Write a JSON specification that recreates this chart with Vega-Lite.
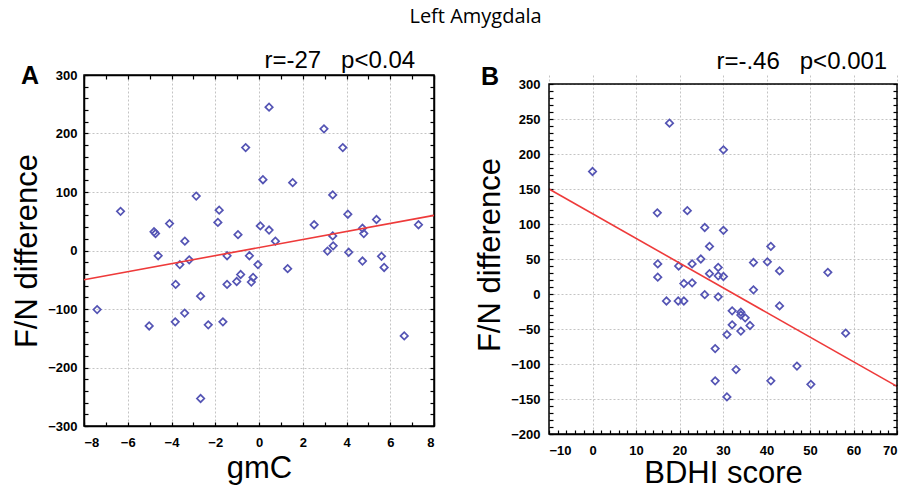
{
  "$schema": "https://vega.github.io/schema/vega-lite/v6.json",
  "padding": {"left": 10, "top": 7, "right": 2, "bottom": 0},
  "title": {"text": "Left Amygdala", "font": "Open Sans", "fontSize": 20, "fontWeight": "normal", "color": "black", "anchor": "middle", "dx": 20, "offset": 21},
  "spacing": 36,
  "config": {
    "view": {"stroke": "black", "strokeWidth": 1.5},
    "axis": {
      "labelFont": "Liberation Sans", "labelFontWeight": "bold", "labelFontSize": 13, "labelColor": "black",
      "titleFont": "Liberation Sans", "titleFontWeight": "normal", "titleFontSize": 31, "titleColor": "black",
      "domainColor": "black", "domainWidth": 1.5, "tickColor": "black", "tickWidth": 1.2, "tickSize": -4,
      "gridColor": "#c4c4c4", "gridDash": [2, 2], "gridWidth": 1, "labelOverlap": false
    }
  },
  "datasets": {
    "A": [
      {"x": -6.33, "y": 67}, {"x": -4.8, "y": 32}, {"x": -4.73, "y": 29}, {"x": -4.09, "y": 46}, {"x": -3.39, "y": 16},
      {"x": -2.87, "y": 93}, {"x": -1.88, "y": 48}, {"x": -1.82, "y": 69}, {"x": -0.96, "y": 27}, {"x": -0.61, "y": 176},
      {"x": 0.06, "y": 42}, {"x": 0.18, "y": 121}, {"x": 0.46, "y": 245}, {"x": 0.46, "y": 35}, {"x": 0.75, "y": 16},
      {"x": 1.54, "y": 116}, {"x": 2.52, "y": 44}, {"x": 2.97, "y": 208}, {"x": 3.37, "y": 95}, {"x": 3.37, "y": 25},
      {"x": 3.83, "y": 176}, {"x": 4.06, "y": 62}, {"x": 4.73, "y": 38}, {"x": 4.79, "y": 29}, {"x": 5.37, "y": 53},
      {"x": 7.29, "y": 44}, {"x": -4.61, "y": -9}, {"x": -3.62, "y": -24}, {"x": -3.19, "y": -16}, {"x": -3.81, "y": -58},
      {"x": -2.67, "y": -78}, {"x": -7.4, "y": -101}, {"x": -5.02, "y": -129}, {"x": -3.83, "y": -122}, {"x": -3.4, "y": -107},
      {"x": -2.32, "y": -127}, {"x": -1.65, "y": -122}, {"x": -2.67, "y": -253}, {"x": -1.46, "y": -9}, {"x": -1.46, "y": -58},
      {"x": -1.02, "y": -53}, {"x": -0.84, "y": -41}, {"x": -0.44, "y": -9}, {"x": -0.27, "y": -46}, {"x": -0.35, "y": -54},
      {"x": -0.05, "y": -24}, {"x": 1.31, "y": -31}, {"x": 3.13, "y": -1}, {"x": 3.39, "y": 8}, {"x": 4.1, "y": -3},
      {"x": 4.73, "y": -18}, {"x": 5.6, "y": -10}, {"x": 5.72, "y": -29}, {"x": 6.64, "y": -146}
    ],
    "Aline": [{"x": -8, "y": -50}, {"x": 8, "y": 60}],
    "B": [
      {"x": 0, "y": 175}, {"x": 17.7, "y": 244}, {"x": 30.1, "y": 206}, {"x": 14.9, "y": 116}, {"x": 21.8, "y": 119},
      {"x": 25.8, "y": 95}, {"x": 30.1, "y": 91}, {"x": 26.9, "y": 68}, {"x": 41, "y": 68}, {"x": 24.9, "y": 50},
      {"x": 15, "y": 43}, {"x": 15, "y": 24}, {"x": 19.8, "y": 40}, {"x": 22.9, "y": 43}, {"x": 28.9, "y": 38},
      {"x": 26.9, "y": 29}, {"x": 28.9, "y": 26}, {"x": 30.1, "y": 25}, {"x": 37, "y": 45}, {"x": 40.2, "y": 46},
      {"x": 43, "y": 33}, {"x": 54.1, "y": 31}, {"x": 21, "y": 15}, {"x": 22.9, "y": 16}, {"x": 25.8, "y": -1},
      {"x": 28.9, "y": -4}, {"x": 37, "y": 6}, {"x": 17, "y": -10}, {"x": 19.7, "y": -10}, {"x": 21, "y": -10},
      {"x": 32.1, "y": -24}, {"x": 34.1, "y": -26}, {"x": 34.1, "y": -30}, {"x": 35.1, "y": -34}, {"x": 43, "y": -17},
      {"x": 32.1, "y": -44}, {"x": 36.2, "y": -45}, {"x": 34.1, "y": -53}, {"x": 30.9, "y": -58}, {"x": 58.2, "y": -56},
      {"x": 28.2, "y": -78}, {"x": 47, "y": -103}, {"x": 33, "y": -108}, {"x": 28.2, "y": -124}, {"x": 41, "y": -124},
      {"x": 50.2, "y": -129}, {"x": 30.9, "y": -147}
    ],
    "Bline": [{"x": -10, "y": 150}, {"x": 70, "y": -132}],
    "Bframe": [{"x1": -10, "x2": 70, "y1": -200, "y2": 300}],
    "Alabel": [{"label": "A"}],
    "Blabel": [{"label": "B"}]
  },
  "hconcat": [
    {
      "width": 350, "height": 351,
      "title": {"text": "r=-27\u00a0\u00a0\u00a0p<0.04", "anchor": "end", "font": "Liberation Sans", "fontSize": 24, "fontWeight": "normal", "color": "black", "offset": -9, "dx": -22},
      "resolve": {"axis": {"x": "independent", "y": "independent"}},
      "layer": [
        {
          "data": {"name": "A"},
          "mark": {"type": "point", "shape": "diamond", "size": 55, "strokeWidth": 1.7, "color": "#5454b4", "filled": false, "opacity": 1},
          "encoding": {
            "x": {"field": "x", "type": "quantitative", "scale": {"domain": [-8, 8], "nice": false, "zero": false},
              "axis": {"title": "gmC", "orient": "bottom", "values": [-8,-7,-6,-5,-4,-3,-2,-1,0,1,2,3,4,5,6,7,8],
                "labelExpr": "datum.value % 2 === 0 ? datum.label : ''", "labelPadding": 14, "titlePadding": 4,
                "gridOpacity": {"condition": {"test": "datum.value % 2 !== 0", "value": 0}, "value": 1}}},
            "y": {"field": "y", "type": "quantitative", "scale": {"domain": [-300, 300], "nice": false, "zero": false},
              "axis": {"title": "F/N difference", "orient": "left", "values": [-300,-280,-260,-240,-220,-200,-180,-160,-140,-120,-100,-80,-60,-40,-20,0,20,40,60,80,100,120,140,160,180,200,220,240,260,280,300],
                "labelExpr": "datum.value % 100 === 0 ? datum.label : ''", "labelPadding": 11, "titlePadding": 4,
                "gridOpacity": {"condition": {"test": "datum.value % 100 !== 0", "value": 0}, "value": 1}}}
          }
        },
        {
          "data": {"name": "Aline"},
          "mark": {"type": "line", "color": "#ee3a3a", "strokeWidth": 1.6},
          "encoding": {
            "x": {"field": "x", "type": "quantitative", "axis": {"orient": "top", "title": null, "labels": false, "grid": false, "values": [-8,-7,-6,-5,-4,-3,-2,-1,0,1,2,3,4,5,6,7,8]}},
            "y": {"field": "y", "type": "quantitative", "axis": {"orient": "right", "title": null, "labels": false, "grid": false, "values": [-300,-280,-260,-240,-220,-200,-180,-160,-140,-120,-100,-80,-60,-40,-20,0,20,40,60,80,100,120,140,160,180,200,220,240,260,280,300]}}
          }
        },
        {
          "data": {"name": "Alabel"},
          "mark": {"type": "text", "font": "Liberation Sans", "fontSize": 25, "fontWeight": "bold", "color": "black", "align": "center", "baseline": "middle", "dx": -54, "dy": 1},
          "encoding": {
            "x": {"datum": -8, "type": "quantitative", "axis": null},
            "y": {"datum": 300, "type": "quantitative", "axis": null},
            "text": {"field": "label"}
          }
        }
      ]
    },
    {
      "width": 348, "height": 359,
      "view": {"stroke": null},
      "title": {"text": "r=-.46\u00a0\u00a0\u00a0p<0.001", "anchor": "end", "font": "Liberation Sans", "fontSize": 24, "fontWeight": "normal", "color": "black", "offset": -9, "dx": -13},
      "resolve": {"axis": {"x": "independent", "y": "independent"}},
      "layer": [
        {
          "data": {"name": "B"},
          "mark": {"type": "point", "shape": "diamond", "size": 55, "strokeWidth": 1.7, "color": "#5454b4", "filled": false, "opacity": 1},
          "encoding": {
            "x": {"field": "x", "type": "quantitative", "scale": {"domain": [-10, 70], "nice": false, "zero": false},
              "axis": {"title": "BDHI score", "orient": "bottom", "values": [-10,-8,-6,-4,-2,0,2,4,6,8,10,12,14,16,18,20,22,24,26,28,30,32,34,36,38,40,42,44,46,48,50,52,54,56,58,60,62,64,66,68,70],
                "labelExpr": "datum.value % 10 === 0 ? datum.label : ''", "labelPadding": 14, "titlePadding": 1,
                "gridOpacity": {"condition": {"test": "datum.value % 10 !== 0", "value": 0}, "value": 1}}},
            "y": {"field": "y", "type": "quantitative", "scale": {"domain": [-200, 312.86], "nice": false, "zero": false},
              "axis": {"title": "F/N difference", "orient": "left", "domain": false, "values": [-200,-190,-180,-170,-160,-150,-140,-130,-120,-110,-100,-90,-80,-70,-60,-50,-40,-30,-20,-10,0,10,20,30,40,50,60,70,80,90,100,110,120,130,140,150,160,170,180,190,200,210,220,230,240,250,260,270,280,290,300],
                "labelExpr": "datum.value % 50 === 0 ? datum.label : ''", "labelPadding": 13, "titlePadding": 4,
                "gridOpacity": {"condition": {"test": "datum.value % 50 !== 0", "value": 0}, "value": 1}}}
          }
        },
        {
          "data": {"name": "Bline"},
          "mark": {"type": "line", "color": "#ee3a3a", "strokeWidth": 1.6},
          "encoding": {
            "x": {"field": "x", "type": "quantitative", "axis": null},
            "y": {"field": "y", "type": "quantitative", "axis": {"orient": "right", "title": null, "labels": false, "grid": false, "domain": false, "values": [-200,-190,-180,-170,-160,-150,-140,-130,-120,-110,-100,-90,-80,-70,-60,-50,-40,-30,-20,-10,0,10,20,30,40,50,60,70,80,90,100,110,120,130,140,150,160,170,180,190,200,210,220,230,240,250,260,270,280,290,300]}}
          }
        },
        {
          "data": {"name": "Bframe"},
          "mark": {"type": "rect", "filled": false, "stroke": "black", "strokeWidth": 1.5},
          "encoding": {
            "x": {"field": "x1", "type": "quantitative", "axis": null},
            "x2": {"field": "x2"},
            "y": {"field": "y1", "type": "quantitative", "axis": null},
            "y2": {"field": "y2"}
          }
        },
        {
          "data": {"name": "Blabel"},
          "mark": {"type": "text", "font": "Liberation Sans", "fontSize": 25, "fontWeight": "bold", "color": "black", "align": "center", "baseline": "middle", "dx": -59, "dy": -7},
          "encoding": {
            "x": {"datum": -10, "type": "quantitative", "axis": null},
            "y": {"datum": 300, "type": "quantitative", "axis": null},
            "text": {"field": "label"}
          }
        }
      ]
    }
  ]
}
